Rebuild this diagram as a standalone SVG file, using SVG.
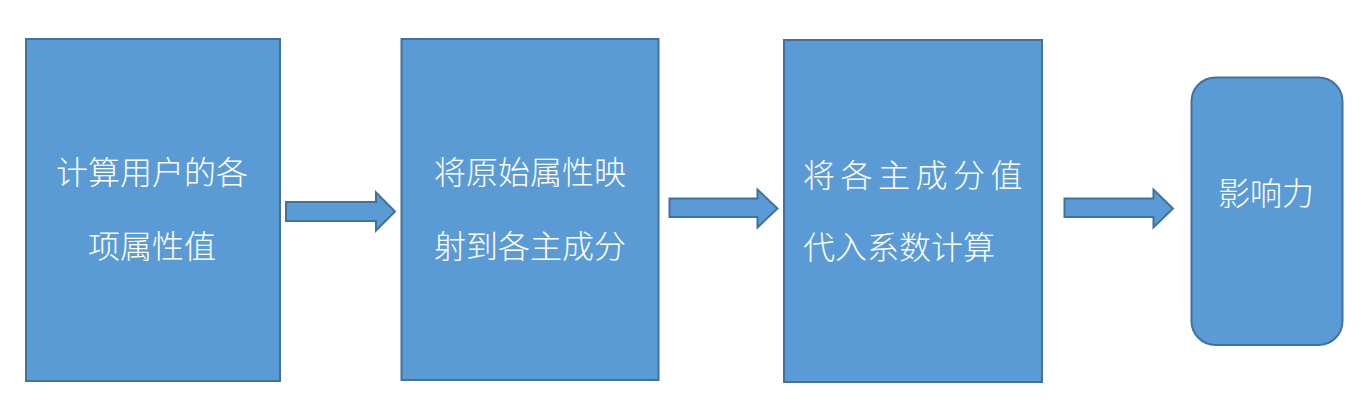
<svg xmlns="http://www.w3.org/2000/svg" width="1365" height="413" viewBox="0 0 1365 413">
<style>
.box{fill:#5B9BD5;stroke:#41719C;stroke-width:2}
.arr{fill:#5B9BD5;stroke:#41719C;stroke-width:2;stroke-linejoin:miter}
.t{font-family:"Noto Sans CJK SC","Noto Sans",sans-serif;font-size:32px;fill:#FFFFFF;font-weight:300}
.c{text-anchor:middle}
</style>
<rect width="1365" height="413" fill="#FFFFFF"/>
<g id="node1">
<rect class="box" x="26" y="39" width="254" height="342"/>
<text class="t c" x="152" y="184">计算用户的各</text>
<text class="t c" x="152" y="258">项属性值</text>
</g>
<g id="node2">
<rect class="box" x="401.5" y="39" width="257" height="341"/>
<text class="t c" x="530" y="184">将原始属性映</text>
<text class="t c" x="530" y="258">射到各主成分</text>
</g>
<g id="node3">
<rect class="box" x="784" y="40" width="258" height="342"/>
<text class="t" x="803" y="187" letter-spacing="5.5">将各主成分值</text>
<text class="t" x="803" y="259">代入系数计算</text>
</g>
<g id="node4">
<rect class="box" x="1191.5" y="77.5" width="151" height="267.5" rx="24" ry="24"/>
<text class="t c" x="1266" y="205">影响力</text>
</g>
<g id="connectors">
<polygon class="arr" points="286,202 376,202 376,192.5 395,211.5 376,230.5 376,221 286,221"/>
<polygon class="arr" points="669.5,198.5 757.5,198.5 757.5,189.5 777.5,208.5 757.5,227.5 757.5,217 669.5,217"/>
<polygon class="arr" points="1064.5,198.5 1153.5,198.5 1153.5,189.5 1173,208.5 1153.5,227.5 1153.5,217 1064.5,217"/>
</g>
</svg>
